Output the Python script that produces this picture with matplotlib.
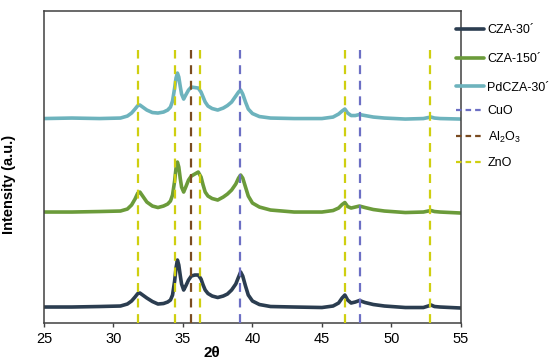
import matplotlib
matplotlib.use("Agg")
import matplotlib.pyplot as plt

plt.rcParams['font.family'] = ['Liberation Sans', 'DejaVu Sans']
plt.rcParams['mathtext.default'] = 'regular'

# ---- data (2theta, intensity a.u.) ----
two_theta = [25, 27, 29, 30.5, 31.0,
             31.3, 31.55, 31.75, 31.9, 32.1,
             32.4, 32.8, 33.2, 33.6, 33.9,
             34.1, 34.25, 34.4, 34.5, 34.6,
             34.7, 34.8, 34.9, 35.05, 35.2,
             35.4, 35.6, 35.85, 36.1, 36.3,
             36.45, 36.6, 36.8, 37.1, 37.5,
             37.9, 38.2, 38.5, 38.8, 39.0,
             39.15, 39.3, 39.5, 39.7, 40.0,
             40.5, 41.3, 43, 45, 45.8,
             46.2, 46.45, 46.65, 46.85, 47.1,
             47.4, 47.7, 48.1, 48.7, 49.5,
             51, 52.3, 52.65, 52.85, 53.1,
             53.5, 55]

cza30 = [16, 16, 16.5, 17, 19,
         22, 26, 29.5, 30, 28,
         25, 21.5, 19, 19.5, 21,
         23, 28, 42, 55, 63,
         58, 48, 39, 33, 37,
         43, 47, 48, 48, 44,
         38, 33, 29.5, 27, 25.5,
         27, 29, 33, 39, 46,
         51, 47, 37, 28, 22,
         18.5, 16.5, 16, 15.5, 17,
         20, 25, 28, 23, 20,
         21, 22.5, 20.5, 18.5, 17,
         15.5, 15.5, 17, 18, 16.5,
         16, 15]

cza150 = [111, 111, 111.5, 112, 114,
          118, 124, 130, 131, 127,
          121, 117, 115.5, 117, 119,
          122, 128, 142, 155, 161,
          156, 145, 136, 131, 136,
          143, 147, 149, 151, 146,
          138, 131, 127, 124.5, 123,
          126, 129, 133, 139, 145,
          148, 145, 136, 127, 120,
          116, 113, 111, 111, 112.5,
          115, 118.5, 120.5, 116.5, 115,
          116, 117, 115.5, 113.5, 112,
          110.5, 111, 112, 112.5, 111.5,
          111, 110]

pdcza30 = [204.5, 205, 204.5, 205, 207,
           210, 214, 217.5, 218, 216,
           213, 210.5, 210, 211, 213,
           216, 222, 235, 245, 250,
           246, 237, 229, 224, 228,
           233, 236, 235.5, 235, 231,
           226, 221, 217, 214.5, 213,
           215, 217.5, 221, 227, 231,
           233, 229, 221, 214, 209.5,
           206.5, 205, 204.5, 204.5, 206,
           209, 212, 214, 210, 207.5,
           207.5, 208.5, 207.5, 206, 205,
           204, 204.5, 205.5, 206, 205,
           204.5, 204]

series_labels = ["CZA-30\u00b4", "CZA-150\u00b4", "PdCZA-30\u00b4"]
series_colors = ["#2B3D50", "#6B9B3A", "#6DB3BD"]

ref_labels = ["CuO", "Al$_2$O$_3$", "ZnO"]
ref_colors = ["#6C6FC4", "#7A4B21", "#CFCF10"]
ref_positions = [[39.1, 47.75], [35.55], [31.8, 34.45, 36.25, 46.65, 52.8]]
ref_top = 273

xticks = [25, 30, 35, 40, 45, 50, 55]

fig = plt.figure(figsize=(5.5, 3.64), dpi=100)
ax = fig.add_axes([0.08, 0.1126, 0.758, 0.857])

for pos, c in zip(ref_positions, ref_colors):
    ax.vlines(pos, 0, ref_top, colors=c, linestyles=(0, (4, 3)), linewidth=1.6, zorder=3)
ref_handles = [plt.Line2D([], [], color=c, linestyle=(0, (2.5, 1.8)), linewidth=1.6)
               for c in ref_colors]

series_data = [cza30, cza150, pdcza30]
series_handles = []
for ys, c in zip(series_data, series_colors):
    h, = ax.plot(two_theta, ys, color=c, linewidth=2.6, zorder=2,
                 solid_joinstyle='round', solid_capstyle='round')
    series_handles.append(h)

ax.set_xlim(25, 55)
ax.set_ylim(0, 312)
ax.set_xticks(xticks)
ax.set_xticklabels([str(t) for t in xticks], fontsize=10.5)
ax.set_yticks([])
ax.tick_params(axis='x', direction='out', length=3, width=1, color='#404040')
for s in ax.spines.values():
    s.set_color('#404040')
    s.set_linewidth(1.1)

ax.set_xlabel("2\u03b8", fontsize=11, fontweight='bold')
ax.xaxis.set_label_coords(0.403, -0.075)
ax.set_ylabel("Intensity (a.u.)", fontsize=10.5, fontweight='bold')
ax.yaxis.set_label_coords(-0.068, 0.445)

leg1 = fig.legend(series_handles, series_labels,
                  loc='upper left', bbox_to_anchor=(456 / 550, 1 - 24 / 364),
                  frameon=False, fontsize=9, handlelength=2.2, handletextpad=0.3,
                  labelspacing=1.35, borderpad=0, borderaxespad=0)
leg2 = fig.legend(ref_handles, ref_labels,
                  loc='upper left', bbox_to_anchor=(456 / 550, 1 - 105 / 364),
                  frameon=False, fontsize=9, handlelength=2.0, handletextpad=0.55,
                  labelspacing=1.0, borderpad=0, borderaxespad=0)

fig.savefig("out.png", dpi=100)
